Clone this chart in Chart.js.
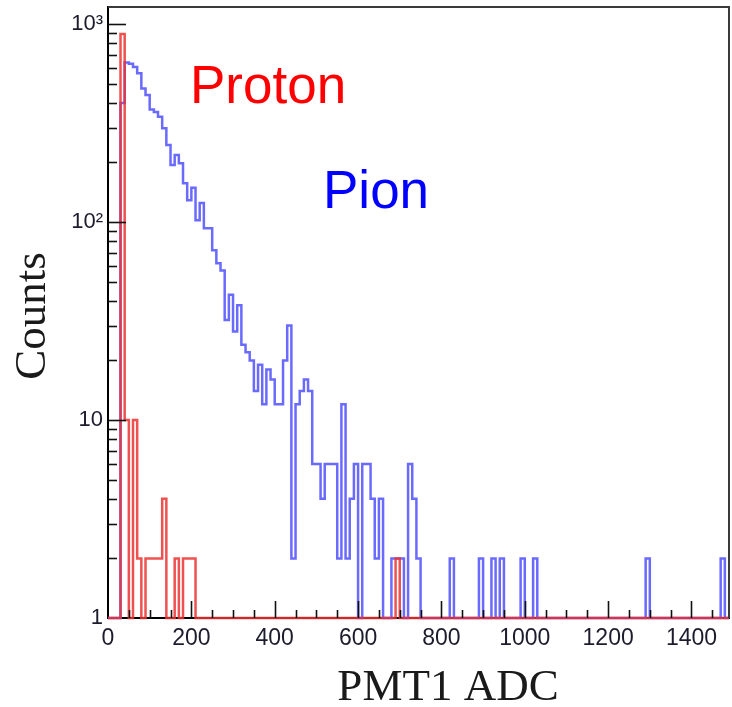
<!DOCTYPE html>
<html><head><meta charset="utf-8">
<script src="https://cdn.jsdelivr.net/npm/chart.js@4.4.0/dist/chart.umd.min.js"></script>
<style>html,body{margin:0;padding:0;background:#fff;}#c{display:block;}</style>
</head><body>
<canvas id="c" width="732" height="707"></canvas>
<script>
// ---- data (histogram, 10 ADC-channel bins starting at 0) ----
const binWidth = 10;
const pionCounts = [
  1,1,1,400,640,630,608,564,473,438,
  370,360,340,298,245,194,218,198,157,129,
  149,102,125,93,93,72,62,57,32,43,
  28,38,24,22,20,14,19,12,18,16,
  12,12,20,30,2,12,14,16,14,6,
  6,4,6,6,6,2,12,2,4,6,
  1,6,6,4,2,4,1,1,2,2,
  2,1,6,4,2,1,1,1,1,1,
  1,1,2,1,1,1,1,1,1,2,
  1,1,2,1,2,1,1,1,1,2,
  1,1,2,1,1,1,1,1,1,1,
  1,1,1,1,1,1,1,1,1,1,
  1,1,1,1,1,1,1,1,1,2,
  1,1,1,1,1,1,1,1,1,1,
  1,1,1,1,1,1,1,2,1,1
];
const protonCounts = [
  1,1,1,890,10,1,10,2,1,2,
  2,2,2,4,1,1,2,1,2,2,
  2,1,1,1,1,1,1,1,1,1,
  1,1,1,1,1,1,1,1,1,1,
  1,1,1,1,1,1,1,1,1,1,
  1,1,1,1,1,1,1,1,1,1,
  1,1,1,1,1,1,1,1,1,2,
  1,1,1,1,1,1,1,1,1,1,
  1,1,1,1,1,1,1,1,1,1,
  1,1,1,1,1,1,1,1,1,1,
  1,1,1,1,1,1,1,1,1,1,
  1,1,1,1,1,1,1,1,1,1,
  1,1,1,1,1,1,1,1,1,1,
  1,1,1,1,1,1,1,1,1,1,
  1,1,1,1,1,1,1,1,1,1
];
const xTickValues = [0,200,400,600,800,1000,1200,1400];
const xMinorStep = 50;
const yTickValues = [1,10,100,1000];
const yTickLabels = ['1','10','10\u00B2','10\u00B3'];
const yMinorTicks = [2,3,4,5,6,7,8,9,20,30,40,50,60,70,80,90,200,300,400,500,600,700,800,900];
const xMin = 0, xMax = 1490, yMin = 1, yMax = 1220;

function toSteps(counts){
  const pts = counts.map((c,i)=>({x:i*binWidth, y:c}));
  pts.push({x:counts.length*binWidth, y:counts[counts.length-1]});
  return pts;
}

const decor = {
  id:'decor',
  afterDatasetsDraw(chart){
    const {ctx, chartArea:a, scales:{x,y}} = chart;
    ctx.save();
    ctx.strokeStyle='#3a3a3a'; ctx.lineWidth=2;
    ctx.beginPath(); ctx.moveTo(a.left,a.top); ctx.lineTo(a.right,a.top); ctx.lineTo(a.right,a.bottom); ctx.stroke();
    ctx.strokeStyle='#111'; ctx.lineWidth=1.6;
    const seg=(x1,y1,x2,y2)=>{ctx.beginPath();ctx.moveTo(x1,y1);ctx.lineTo(x2,y2);ctx.stroke();};
    yTickValues.forEach(v=>{const p=Math.round(y.getPixelForValue(v))+0.5; if(v>yMin) seg(a.left,p,a.left+18,p);});
    yMinorTicks.forEach(v=>{const p=Math.round(y.getPixelForValue(v))+0.5; seg(a.left,p,a.left+9,p);});
    for(let v=xMin; v<=xMax; v+=xMinorStep){
      const p=Math.round(x.getPixelForValue(v))+0.5;
      const major = xTickValues.includes(v);
      if(v===0) continue;
      seg(p,a.bottom,p,a.bottom-(major?17:8));
    }
    ctx.restore();
  },
  afterDraw(chart){
    const {ctx} = chart;
    ctx.save();
    ctx.textBaseline='alphabetic'; ctx.textAlign='left';
    ctx.font='53px "Liberation Sans", Arial, sans-serif';
    ctx.fillStyle='#ff0000'; ctx.fillText('Proton',190,103);
    ctx.fillStyle='#0000ff'; ctx.fillText('Pion',323,208);
    ctx.fillStyle='#1a1a1a';
    ctx.font='45px "Liberation Serif", "Times New Roman", serif';
    ctx.textAlign='center'; ctx.textBaseline='alphabetic';
    ctx.fillText('PMT1 ADC',448,700);
    ctx.translate(45,316); ctx.rotate(-Math.PI/2);
    ctx.fillText('Counts',0,0);
    ctx.restore();
  }
};

new Chart(document.getElementById('c'),{
  type:'line',
  data:{datasets:[
    {label:'Proton', data:toSteps(protonCounts), stepped:'before', borderColor:'rgba(236,50,50,0.85)', borderWidth:2.5, pointRadius:0, fill:false, clip:{left:2,top:2,right:0,bottom:4}},
    {label:'Pion', data:toSteps(pionCounts), stepped:'before', borderColor:'rgba(80,80,255,0.85)', borderWidth:2.5, pointRadius:0, fill:false, clip:{left:2,top:2,right:0,bottom:4}}
  ]},
  options:{
    responsive:false, animation:false, devicePixelRatio:1,
    layout:{padding:{top:7,right:3,left:0,bottom:0}},
    plugins:{legend:{display:false}, tooltip:{enabled:false}},
    scales:{
      x:{type:'linear', min:xMin, max:xMax,
        afterBuildTicks:s=>{s.ticks=xTickValues.map(v=>({value:v}));},
        afterFit:s=>{s.height=89; s.paddingLeft=0; s.paddingRight=0;},
        grid:{display:false, drawTicks:false},
        border:{display:true, color:'#000', width:2},
        ticks:{padding:7, autoSkip:false, maxRotation:0, color:'#1c1c2c',
          font:{family:'"Liberation Sans", Arial, sans-serif', size:23},
          callback:(v)=>String(v)}
      },
      y:{type:'logarithmic', min:yMin, max:yMax,
        afterBuildTicks:s=>{s.ticks=yTickValues.map(v=>({value:v}));},
        afterFit:s=>{s.width=108; s.paddingTop=0; s.paddingBottom=0;},
        grid:{display:false, drawTicks:false},
        border:{display:true, color:'#000', width:2},
        ticks:{padding:5, autoSkip:false, color:'#1c1c2c',
          font:{family:'"Liberation Sans", Arial, sans-serif', size:22},
          callback:(v,i)=>yTickLabels[i]}
      }
    }
  },
  plugins:[decor]
});
</script>
</body></html>
